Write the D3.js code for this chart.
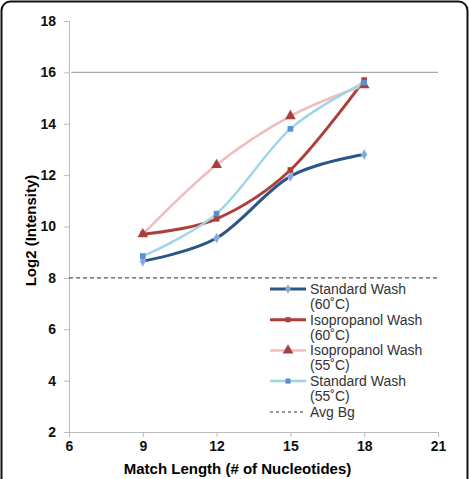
<!DOCTYPE html>
<meta charset="utf-8">
<style>
body { margin: 0; background: #fff; }
text { font-family: "Liberation Sans", Arial, sans-serif; }
.axis path, .axis line { stroke: #bbb; }
.axis text { font-size: 14px; font-weight: bold; fill: #111; }
.legend text { font-size: 14px; fill: #333; }
</style>
<script src="https://cdn.jsdelivr.net/npm/d3@7"></script>
<body>
<script>

var matchLength = [9, 12, 15, 18];
var xTicks = [6, 9, 12, 15, 18, 21];
var yTicks = [2, 4, 6, 8, 10, 12, 14, 16, 18];

var standard60 = [8.65, 9.55, 11.95, 12.8];
var isopropanol60 = [9.7, 10.3, 12.2, 15.7];
var isopropanol55 = [9.7, 12.4, 14.3, 15.5];
var standard55 = [8.85, 10.5, 13.8, 15.6];
var avgBg = 8;
var refLine = 16;

var series = [
  {name: ["Standard Wash", "(60˚C)"], values: standard60, line: "#2b5686", marker: "#7fa9dd", shape: "diamond", width: 3},
  {name: ["Isopropanol Wash", "(60˚C)"], values: isopropanol60, line: "#ad3f3b", marker: "#ad3f3b", shape: "square", width: 3},
  {name: ["Isopropanol Wash", "(55˚C)"], values: isopropanol55, line: "#f2bcbc", marker: "#a7413d", shape: "triangle", width: 2.5},
  {name: ["Standard Wash", "(55˚C)"], values: standard55, line: "#9fd6e6", marker: "#5a8fd8", shape: "square", width: 2.5}
];

var W = 469, H = 479;
var margin = {top: 21, right: 31, bottom: 47, left: 69},
    width = W - margin.left - margin.right,
    height = H - margin.top - margin.bottom;

var root = d3.select("body").append("svg")
    .attr("width", W)
    .attr("height", H);

root.append("rect")
    .attr("x", 1.5).attr("y", 1.5)
    .attr("width", W - 3).attr("height", H + 10)
    .attr("rx", 9)
    .attr("fill", "#fff")
    .attr("stroke", "#111")
    .attr("stroke-width", 2);

var svg = root.append("g")
    .attr("transform", "translate(" + margin.left + "," + margin.top + ")");

var x = d3.scaleLinear().domain([6, 21]).range([0, width]);
var y = d3.scaleLinear().domain([2, 18]).range([height, 0]);

svg.append("g")
    .attr("class", "y axis")
    .call(d3.axisLeft(y).tickValues(yTicks).tickSize(5).tickPadding(8));

svg.append("g")
    .attr("class", "x axis")
    .attr("transform", "translate(0," + height + ")")
    .call(d3.axisBottom(x).tickValues(xTicks).tickSize(5).tickPadding(4));

svg.append("line")
    .attr("x1", 2).attr("x2", width)
    .attr("y1", y(refLine)).attr("y2", y(refLine))
    .attr("stroke", "#aaa").attr("stroke-width", 1.2);

svg.append("line")
    .attr("x1", 0).attr("x2", width)
    .attr("y1", y(avgBg)).attr("y2", y(avgBg))
    .attr("stroke", "#555").attr("stroke-width", 1.2)
    .attr("stroke-dasharray", "4,3");

var line = d3.line()
    .x(function(d) { return x(d[0]); })
    .y(function(d) { return y(d[1]); })
    .curve(d3.curveCatmullRom.alpha(0));

function symbolFor(s, size) {
  var t = s.shape == "diamond" ? d3.symbolDiamond : s.shape == "triangle" ? d3.symbolTriangle : d3.symbolSquare;
  return d3.symbol().type(t).size(size)();
}

series.forEach(function(s) {
  var pts = matchLength.map(function(m, i) { return [m, s.values[i]]; });
  svg.append("path")
      .datum(pts)
      .attr("fill", "none")
      .attr("stroke", s.line)
      .attr("stroke-width", s.width)
      .attr("d", line);
});

series.forEach(function(s) {
  var pts = matchLength.map(function(m, i) { return [m, s.values[i]]; });
  svg.selectAll(null)
      .data(pts)
      .enter().append("path")
      .attr("transform", function(d) { return "translate(" + x(d[0]) + "," + y(d[1]) + ")"; })
      .attr("d", symbolFor(s, s.shape == "triangle" ? 50 : 32))
      .attr("fill", s.marker)
      .attr("stroke", s.shape == "diamond" ? "#c8dcf2" : "none")
      .attr("stroke-width", 0.6);
});

// legend
var legend = root.append("g")
    .attr("class", "legend")
    .attr("transform", "translate(270,289)");

series.forEach(function(s, i) {
  var g = legend.append("g").attr("transform", "translate(0," + (i * 30.7) + ")");
  g.append("line")
      .attr("x1", 0).attr("x2", 36)
      .attr("stroke", s.line).attr("stroke-width", s.width);
  g.append("path")
      .attr("transform", "translate(18,0)")
      .attr("d", symbolFor(s, s.shape == "triangle" ? 50 : 26))
      .attr("fill", s.marker);
  g.append("text").attr("x", 40).attr("y", 5).text(s.name[0]);
  g.append("text").attr("x", 40).attr("y", 20).text(s.name[1]);
});

var bg = legend.append("g").attr("transform", "translate(0," + 123 + ")");
bg.append("line")
    .attr("x1", 0).attr("x2", 36)
    .attr("stroke", "#333").attr("stroke-width", 1)
    .attr("stroke-dasharray", "3,3");
bg.append("text").attr("x", 40).attr("y", 5).text("Avg Bg");

root.append("text")
    .attr("transform", "translate(36," + (margin.top + height / 2 + 4) + ") rotate(-90)")
    .attr("text-anchor", "middle")
    .style("font-size", "15px").style("font-weight", "bold")
    .text("Log2 (Intensity)");

root.append("text")
    .attr("x", margin.left + width / 2 - 16)
    .attr("y", 474)
    .attr("text-anchor", "middle")
    .style("font-size", "15px").style("font-weight", "bold")
    .text("Match Length (# of Nucleotides)");

</script>
</body>
